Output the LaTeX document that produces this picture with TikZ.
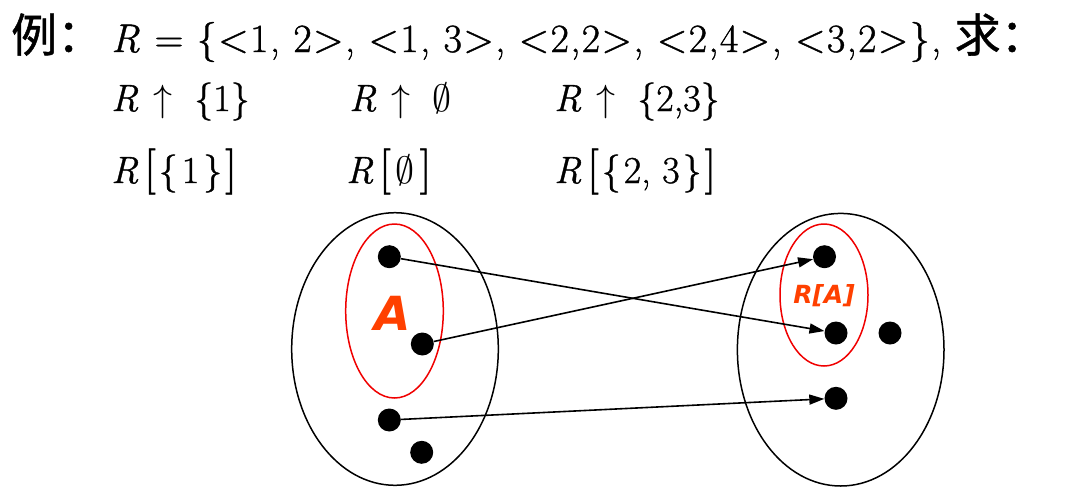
\RequirePackage{fix-cm}
\documentclass[tikz,border=0pt]{standalone}
\usepackage{fontspec}
\setmainfont{Latin Modern Roman}
\newfontfamily\cjk{Noto Sans CJK SC}[FakeBold=1]
\newfontfamily\labfont{DejaVu Sans Bold Oblique}
\usetikzlibrary{arrows.meta,shapes.geometric}
\definecolor{labcol}{RGB}{255,64,0}
\definecolor{redl}{RGB}{240,0,0}
\newcommand\bigbr[1]{{\fontsize{46}{46}\selectfont\addfontfeatures{FakeBold=1} #1}}
\newcommand\cjkbig[1]{{\cjk\fontsize{46}{46}\selectfont #1}}
\begin{document}
\begin{tikzpicture}[x=1pt,y=-1pt,
  txt/.style={anchor=base west, inner sep=0pt, font=\fontsize{38}{40}\selectfont\addfontfeatures{FakeBold=1}},
  txtone/.style={anchor=base west, inner sep=0pt, font=\fontsize{40}{42}\selectfont\addfontfeatures{LetterSpace=3.5,FakeBold=1}},
  dot/.style={circle, fill=black, minimum size=23pt, inner sep=0pt},
  setell/.style={ellipse, draw=black, line width=1.5pt, inner sep=0pt},
  subell/.style={ellipse, draw=redl, line width=1.5pt, inner sep=0pt},
  arr/.style={line width=1.6pt, -{Triangle[length=15pt,width=10pt]}},
  lab/.style={text=labcol, inner sep=0pt}
]
\useasboundingbox (0,0) rectangle (1092,496);
% text
\node[txt] (l1a) at (11,52) {\cjkbig{例：}};
\node[txtone] (l1b) at (111,52) {\textit{R} = \{<1, 2>, <1, 3>, <2,2>, <2,4>, <3,2>\}, \cjkbig{求：}};
\node[txt] (t21) at (111,111) {\textit{R}\hspace{15pt}$\uparrow$\hspace{22pt}\{1\}};
\node[txt] (t22) at (349,111) {\textit{R}\hspace{15pt}$\uparrow$\hspace{22pt}$\emptyset$};
\node[txt] (t23) at (554,111) {\textit{R}\hspace{15pt}$\uparrow$\hspace{22pt}\{2,3\}};
\node[txt] (t31) at (111,183) {\textit{R}\hspace{6pt}\bigbr{[}\hspace{3pt}\{\hspace{4pt}1\hspace{4pt}\}\hspace{3pt}\bigbr{]}};
\node[txt] (t32) at (346,183) {\textit{R}\hspace{6pt}\bigbr{[}\hspace{5pt}$\emptyset$\hspace{5pt}\bigbr{]}};
\node[txt] (t33) at (554,183) {\textit{R}\hspace{6pt}\bigbr{[}\hspace{3pt}\{\hspace{3pt}2, 3\hspace{3pt}\}\hspace{3pt}\bigbr{]}};
% sets
\node[setell, minimum width=206.6pt, minimum height=272.6pt] (U1) at (395,349) {};
\node[subell, minimum width=97.6pt, minimum height=174pt] (A1) at (394.5,311) {};
\node[setell, minimum width=206.6pt, minimum height=272.6pt] (U2) at (840.7,349.7) {};
\node[subell, minimum width=88pt, minimum height=142pt] (A2) at (824,295) {};
% labels
\node[lab, font=\labfont\fontsize{47}{47}\selectfont] (lA) at (393,313) {A};
\node[lab, font=\labfont\fontsize{25}{25}\selectfont] (lRA) at (824,296) {R[A]};
% dots
\node[dot] (a1) at (389.3,256.7) {};
\node[dot] (a2) at (422.3,344) {};
\node[dot] (a3) at (389.3,420) {};
\node[dot] (a4) at (421.7,452.3) {};
\node[dot] (b1) at (824.5,256.7) {};
\node[dot] (b2) at (836,333) {};
\node[dot] (b3) at (890,333) {};
\node[dot] (b4) at (836,398.3) {};
% arrows
\draw[arr] (a1) -- (b2);
\draw[arr] (a2) -- (b1);
\draw[arr] (a3) -- (b4);
\end{tikzpicture}
\end{document}
